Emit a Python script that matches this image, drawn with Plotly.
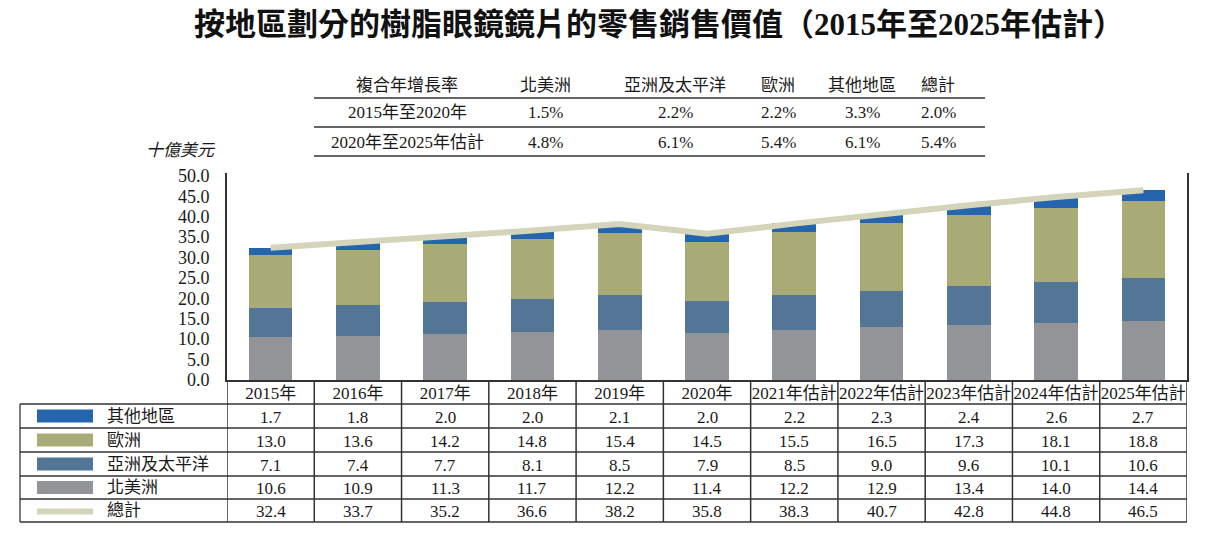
import plotly.graph_objects as go

# ---------------- data ----------------
categories = ["2015年", "2016年", "2017年", "2018年", "2019年", "2020年",
              "2021年估計", "2022年估計", "2023年估計", "2024年估計", "2025年估計"]
north_america = [10.6, 10.9, 11.3, 11.7, 12.2, 11.4, 12.2, 12.9, 13.4, 14.0, 14.4]
asia_pacific = [7.1, 7.4, 7.7, 8.1, 8.5, 7.9, 8.5, 9.0, 9.6, 10.1, 10.6]
europe = [13.0, 13.6, 14.2, 14.8, 15.4, 14.5, 15.5, 16.5, 17.3, 18.1, 18.8]
other_regions = [1.7, 1.8, 2.0, 2.0, 2.1, 2.0, 2.2, 2.3, 2.4, 2.6, 2.7]
total = [32.4, 33.7, 35.2, 36.6, 38.2, 35.8, 38.3, 40.7, 42.8, 44.8, 46.5]
y_ticks = [0, 5, 10, 15, 20, 25, 30, 35, 40, 45, 50]

series_names = ["其他地區", "歐洲", "亞洲及太平洋", "北美洲", "總計"]

cagr_header = ["複合年增長率", "北美洲", "亞洲及太平洋", "歐洲", "其他地區", "總計"]
cagr_periods = ["2015年至2020年", "2020年至2025年估計"]
cagr_north_america = ["1.5%", "4.8%"]
cagr_asia_pacific = ["2.2%", "6.1%"]
cagr_europe = ["2.2%", "5.4%"]
cagr_other = ["3.3%", "6.1%"]
cagr_total = ["2.0%", "5.4%"]

title_text = "按地區劃分的樹脂眼鏡鏡片的零售銷售價值（2015年至2025年估計）"
unit_text = "十億美元"

# ---------------- style ----------------
WIN_W, WIN_H = 1227, 535
OFF = 8                      # default page body margin
W, H = WIN_W - 2 * OFF, WIN_H - 2 * OFF
AX_L, AX_R, AX_T, AX_B = 227, 1187, 173, 380   # plot area in window pixels
L, R, T = AX_L - OFF, (WIN_W - OFF) - AX_R, AX_T - OFF
B = H - (AX_B - OFF)
PLOT_W = W - L - R
PLOT_H = H - T - B

C_OTHER = "#2565ae"
C_EUROPE = "#a9ab76"
C_ASIA = "#537596"
C_NA = "#939498"
C_TOTAL = "#d4d4ba"
C_LINE = "#333333"
FONT = "Liberation Serif, Noto Sans CJK TC, serif"
TXT = "#1a1a1a"


def py(p):
    return (AX_B - p) / PLOT_H


def px(x):
    return (x - AX_L) / PLOT_W


fig = go.Figure()
fig.add_bar(x=categories, y=north_america, name=series_names[3], marker_color=C_NA)
fig.add_bar(x=categories, y=asia_pacific, name=series_names[2], marker_color=C_ASIA)
fig.add_bar(x=categories, y=europe, name=series_names[1], marker_color=C_EUROPE)
fig.add_bar(x=categories, y=other_regions, name=series_names[0], marker_color=C_OTHER)
fig.add_scatter(x=categories, y=total, name=series_names[4], mode="lines",
                line=dict(color=C_TOTAL, width=6))
fig.update_traces(selector=dict(type="bar"), marker_line_width=0)

shapes = []
annotations = []

# ---- bottom data table ----
row_lines = [404, 428, 452, 476, 499, 522]
row_centers = [(row_lines[i] + row_lines[i + 1]) / 2 for i in range(5)]
for yl in row_lines:
    shapes.append(dict(type="line", xref="paper", yref="paper", x0=px(20), x1=1,
                       y0=py(yl), y1=py(yl), line=dict(color=C_LINE, width=1.3)))
shapes.append(dict(type="line", xref="paper", yref="paper", x0=px(20), x1=px(20),
                   y0=py(404), y1=py(522), line=dict(color=C_LINE, width=1.3)))
for i in range(len(categories) + 1):
    shapes.append(dict(type="line", xref="x", yref="paper", x0=i - 0.5, x1=i - 0.5,
                       y0=0, y1=py(522), line=dict(color=C_LINE, width=1.5)))

table_rows = [other_regions, europe, asia_pacific, north_america, total]
swatch_colors = [C_OTHER, C_EUROPE, C_ASIA, C_NA]
for r, (name, vals) in enumerate(zip(series_names, table_rows)):
    yc = row_centers[r]
    if r < 4:
        shapes.append(dict(type="rect", xref="paper", yref="paper",
                           x0=px(37), x1=px(93), y0=py(yc + 6.5), y1=py(yc - 6.5),
                           fillcolor=swatch_colors[r], line=dict(width=0)))
    else:
        shapes.append(dict(type="line", xref="paper", yref="paper",
                           x0=px(37), x1=px(93), y0=py(yc + 1), y1=py(yc + 1),
                           line=dict(color=C_TOTAL, width=6)))
    annotations.append(dict(xref="paper", yref="paper", x=px(105), y=py(yc),
                            text=name, showarrow=False, xanchor="left", yanchor="middle",
                            font=dict(family=FONT, size=17, color=TXT)))
    for c, v in zip(categories, vals):
        annotations.append(dict(xref="x", yref="paper", x=c, y=py(yc + 1),
                                text=f"{v:.1f}", showarrow=False, xanchor="center",
                                yanchor="middle", font=dict(family=FONT, size=17, color=TXT)))

# ---- CAGR table ----
cagr_x = [407, 545, 675, 778, 862, 938]
cagr_cols = [cagr_periods, cagr_north_america, cagr_asia_pacific, cagr_europe,
             cagr_other, cagr_total]
for yl in [98, 127, 156]:
    shapes.append(dict(type="line", xref="paper", yref="paper", x0=px(314), x1=px(985),
                       y0=py(yl), y1=py(yl), line=dict(color=C_LINE, width=1.5)))
for j, head in enumerate(cagr_header):
    annotations.append(dict(xref="paper", yref="paper", x=px(cagr_x[j]), y=py(85),
                            text=head, showarrow=False, xanchor="center", yanchor="middle",
                            font=dict(family=FONT, size=17, color=TXT)))
    for k, yc in enumerate([112.5, 142]):
        annotations.append(dict(xref="paper", yref="paper", x=px(cagr_x[j]), y=py(yc),
                                text=cagr_cols[j][k], showarrow=False, xanchor="center",
                                yanchor="middle", font=dict(family=FONT, size=17, color=TXT)))

# ---- unit label ----
annotations.append(dict(xref="paper", yref="paper", x=px(181), y=py(150), text=unit_text,
                        showarrow=False, xanchor="center", yanchor="middle",
                        font=dict(family=FONT, size=17, color=TXT, style="italic")))

fig.update_layout(
    width=W, height=H,
    margin=dict(l=L, r=R, t=T, b=B, pad=0),
    barmode="stack", bargap=0.5,
    showlegend=False,
    plot_bgcolor="white", paper_bgcolor="white",
    title=dict(text="<b>" + title_text + "</b>", xref="container", yref="container",
               x=(659 - OFF) / W, y=1 - (24 - OFF) / H, xanchor="center", yanchor="middle",
               font=dict(family=FONT, size=31, color="#111111")),
    xaxis=dict(type="category", range=[-0.5, len(categories) - 0.5], showgrid=False,
               showline=True, linecolor=C_LINE, linewidth=1.5, ticks="",
               ticklabelstandoff=-3,
               tickfont=dict(family=FONT, size=17, color=TXT), fixedrange=True),
    yaxis=dict(range=[0, 50.7], tickvals=y_ticks, ticktext=[f"{v:.1f}" for v in y_ticks],
               showgrid=False, zeroline=False, showline=True, mirror=True,
               linecolor=C_LINE, linewidth=2, ticks="", ticklabelstandoff=12,
               tickfont=dict(family=FONT, size=18, color=TXT), fixedrange=True),
    shapes=shapes, annotations=annotations,
)

fig.write_html("out.html")
